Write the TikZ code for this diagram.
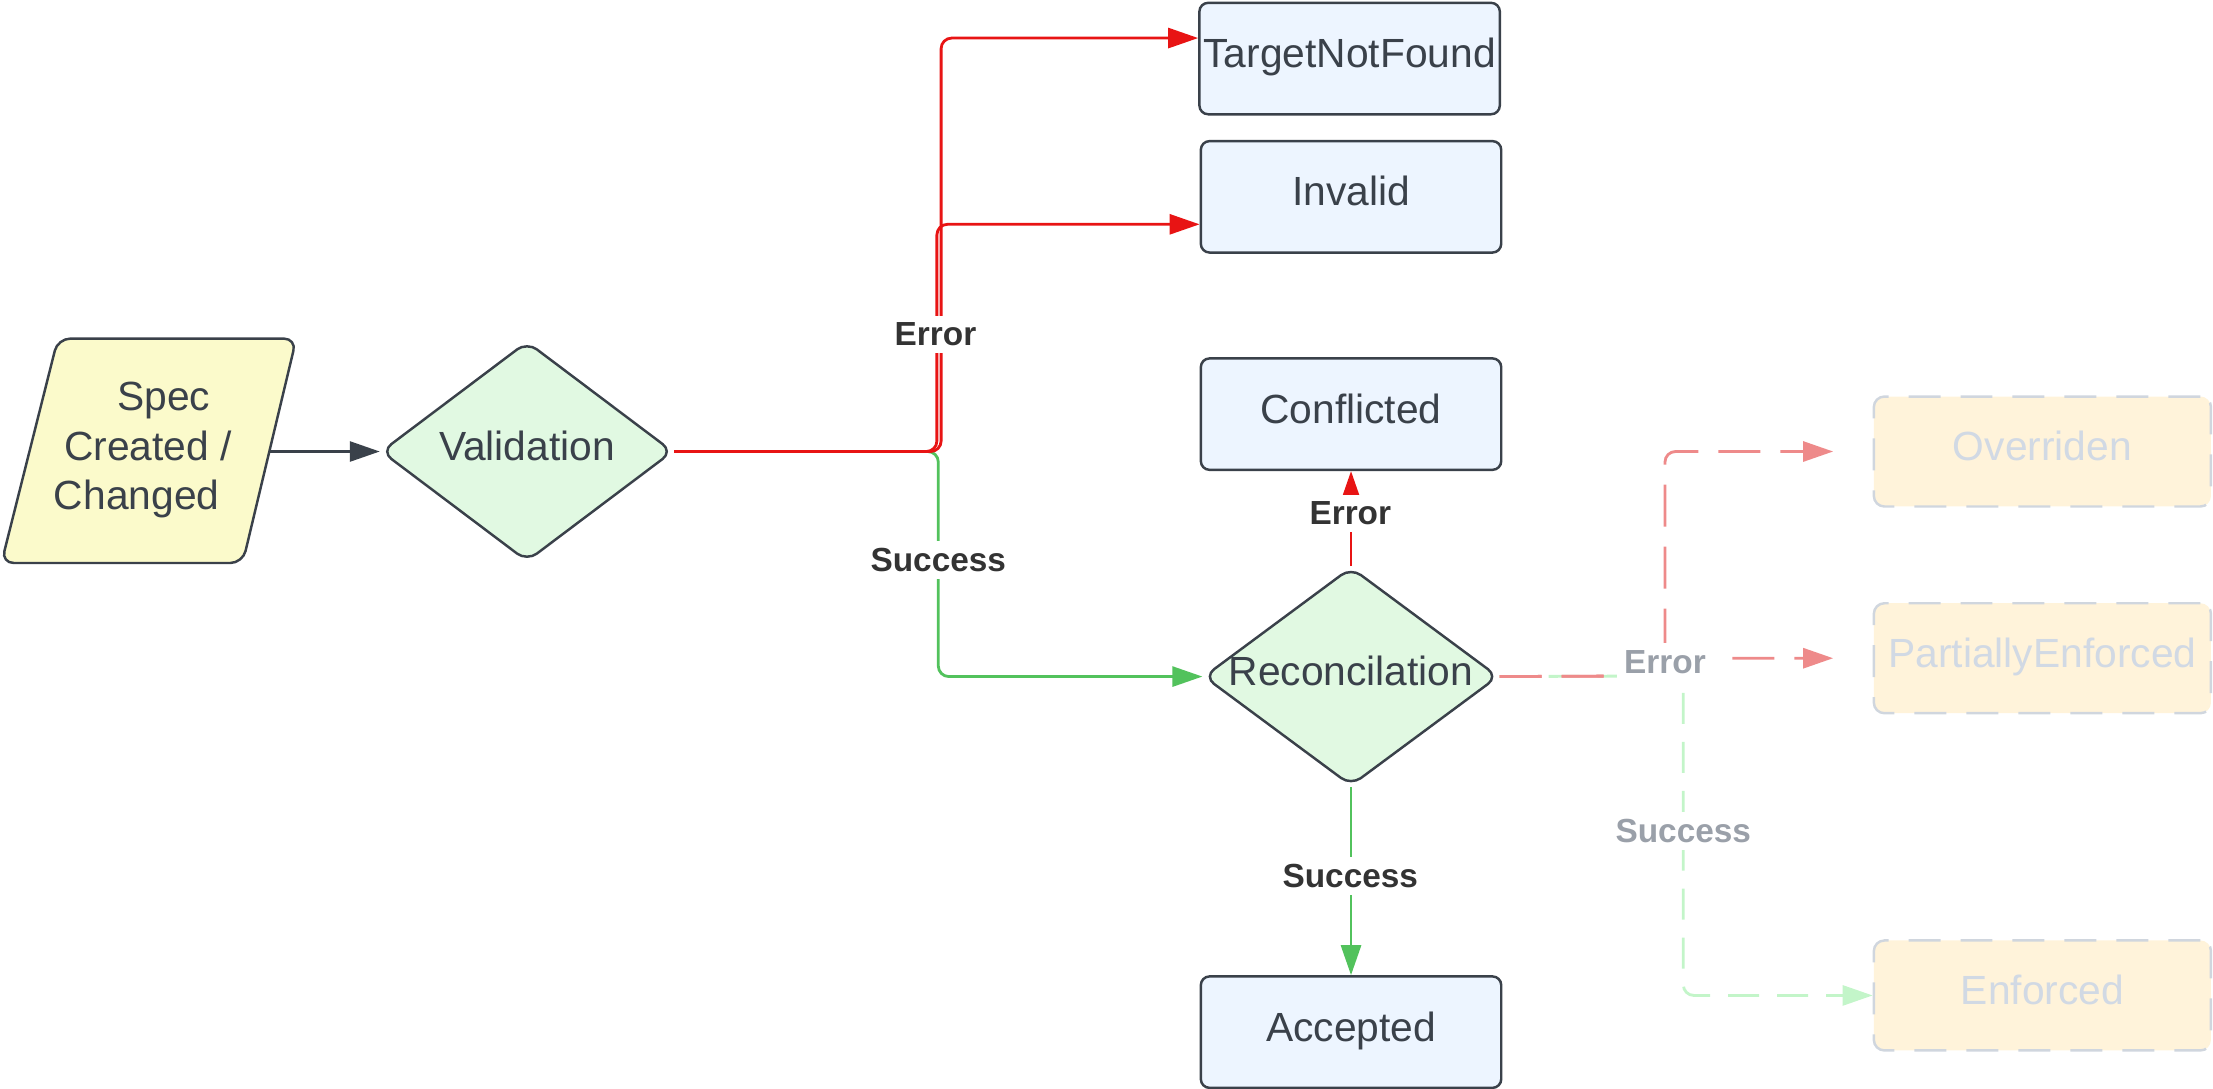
\documentclass[tikz,border=0pt]{standalone}
\usepackage{fontspec}
\setmainfont{Liberation Sans}
\usetikzlibrary{shapes.geometric,arrows.meta}
\definecolor{linec}{HTML}{3A414A}
\definecolor{textc}{HTML}{3A414A}
\definecolor{bluefill}{HTML}{EDF5FF}
\definecolor{greenfill}{HTML}{E1F9E2}
\definecolor{yellowfill}{HTML}{FBFACB}
\definecolor{redc}{HTML}{E81414}
\definecolor{greenc}{HTML}{52C25C}
\definecolor{fadedred}{HTML}{EE8A8A}
\definecolor{fadedgreen}{HTML}{C3F5C9}
\definecolor{cream}{HTML}{FFF3DA}
\definecolor{ghostline}{HTML}{D0D6DE}
\definecolor{ghosttext}{HTML}{D1D9E4}
\definecolor{lblc}{HTML}{333333}
\definecolor{glblc}{HTML}{9AA0A9}
\begin{document}
\begin{tikzpicture}[x=0.01411cm,y=-0.01411cm,
  base/.style={font=\fontsize{11.6}{14.2}\selectfont, text=textc, inner sep=0pt},
  fixtext/.style={text height=0.29cm, text depth=0.11cm},
  statebox/.style={base, fixtext, draw=linec, line width=0.7pt, fill=bluefill, rounded corners=2.5pt,
    minimum width=3.005cm, minimum height=1.115cm},
  decision/.style={base, fixtext, diamond, draw=linec, line width=0.7pt, fill=greenfill, rounded corners=3.5pt},
  ghost/.style={base, fixtext, text=ghosttext, draw=ghostline, dash pattern=on 0.32cm off 0.2cm,
    fill=cream, rounded corners=3pt, line width=0.7pt, minimum width=3.372cm, minimum height=1.1cm},
  lbl/.style={font=\bfseries\fontsize{9.5}{11}\selectfont, text=lblc, fill=white, inner sep=2pt},
  glbl/.style={lbl, text=glblc},
  tip/.style={-{Triangle[length=0.3cm,width=0.2cm]}},
  darkflow/.style={draw=linec, line width=0.8pt, tip},
  redflow/.style={draw=redc, line width=0.8pt, rounded corners=3pt, tip},
  greenflow/.style={draw=greenc, line width=0.8pt, rounded corners=3pt, tip},
  fredflow/.style={draw=fadedred, line width=0.8pt, rounded corners=3pt, dash pattern=on 0.42cm off 0.2cm, tip},
  fgreenflow/.style={draw=fadedgreen, line width=0.8pt, rounded corners=3pt, dash pattern=on 0.31cm off 0.18cm, tip}
]
\useasboundingbox (0,0) rectangle (1568.4,771.8);

% input parallelogram
\draw[draw=linec, fill=yellowfill, line width=0.7pt, rounded corners=3.5pt]
  (41,240) -- (210,240) -- (172,399) -- (1,399) -- cycle;
\node[base, align=center] (spec) at (105,319) {\hspace*{0.31cm}Spec\\Created /\\Changed\hspace*{0.23cm}};
\coordinate (specout) at (191.5,320);

% decisions
\node[decision, minimum width=2.921cm, minimum height=2.201cm] (val) at (373.5,320) {\makebox[0pt]{Validation}};
\node[decision, minimum width=2.949cm, minimum height=2.187cm] (rec) at (957.5,479.5) {\makebox[0pt]{Reconcilation}};

% states
\node[statebox] (tnf) at (956.5,41.5) {TargetNotFound};
\node[statebox] (inv) at (957.5,139.5) {Invalid};
\node[statebox] (conf) at (957.5,293.5) {Conflicted};
\node[statebox] (acc) at (957.5,731.5) {Accepted};

% ghost states
\node[ghost] (ovr) at (1447.5,320) {Overriden};
\node[ghost] (pe) at (1447.5,466.5) {PartiallyEnforced};
\node[ghost] (enf) at (1447.5,705.5) {Enforced};

% junctions
\coordinate (vj1) at (667,320);
\coordinate (vj2) at (664,320);
\coordinate (vjg) at (665,320);
\coordinate (rj) at (1180,479);
\coordinate (rjg) at (1193,479);

% connectors
\draw[darkflow] (specout) -- (val.west);
\draw[greenflow] (val.east) -- (vjg) |- (rec.west);
\draw[redflow] (val.east) -- (vj1) |- ([yshift=0.205cm]tnf.west);
\draw[redflow] (val.east) -- (vj2) |- ([yshift=-0.275cm]inv.west);
\draw[redflow] (rec.north) -- (conf.south);
\draw[greenflow] (rec.south) -- (acc.north);
\draw[fgreenflow] (rec.east) -- (rjg) |- (enf.west);
\draw[fredflow] (rec.east) -- (rj) |- ([xshift=-0.395cm]ovr.west);
\draw[fredflow] (rec.east) -- (rj) |- ([xshift=-0.395cm]pe.west);

% labels
\node[lbl] (lerr1) at (663,237) {Error};
\node[lbl] (lsuc1) at (665,397) {Success};
\node[lbl] (lerr2) at (957,364) {Error};
\node[lbl] (lsuc2) at (957,621) {Success};
\node[glbl] (lerr3) at (1180,469) {Error};
\node[glbl] (lsuc3) at (1193,589) {Success};
\end{tikzpicture}
\end{document}
